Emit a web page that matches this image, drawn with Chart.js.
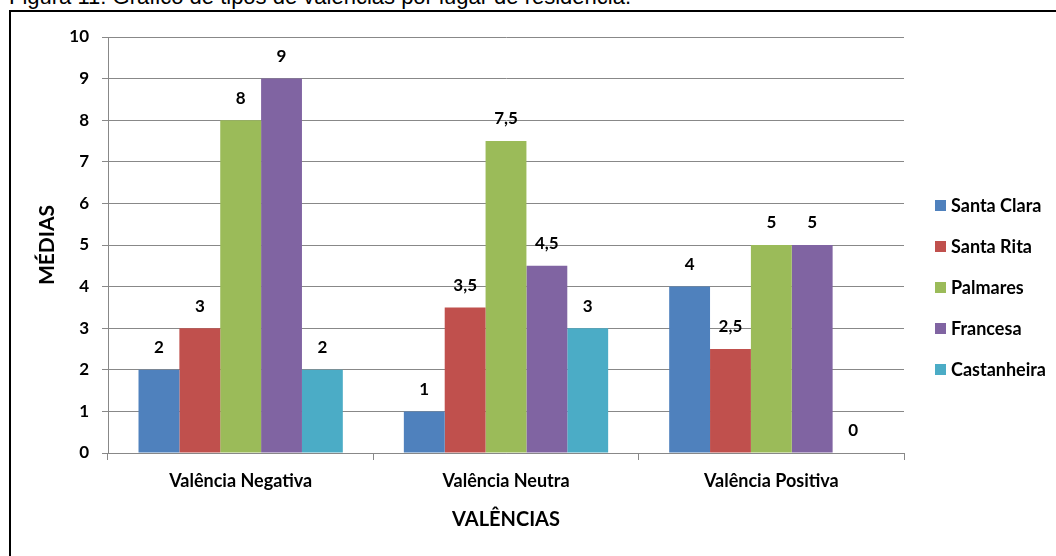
<!DOCTYPE html>
<html>
<head>
<meta charset="utf-8">
<title>Valências por lugar de residência</title>
<script src="https://cdn.jsdelivr.net/npm/chart.js@4/dist/chart.umd.min.js"></script>
<style>
  html, body { margin: 0; padding: 0; background: #fff; }
  body { width: 1056px; height: 556px; position: relative; overflow: hidden; }
  #frame {
    position: absolute; left: 9px; top: 10px; width: 1100px; height: 600px;
    border-left: 2px solid #000; border-top: 2px solid #000;
  }
  #caption {
    position: absolute; left: 9px; top: -14px; margin: 0;
    font: 22px "Liberation Sans", Arial, sans-serif; line-height: 22px;
    white-space: nowrap; color: #000;
  }
  #wrap { position: absolute; left: 0; top: 0; width: 1056px; height: 556px; }
</style>
</head>
<body>
<p id="caption">Figura 11: Gráfico de tipos de valências por lugar de residência.</p>
<div id="frame"></div>
<div id="wrap"><canvas id="chart" width="1056" height="556"></canvas></div>
<script>
// Mean scores per valence type, one series per place of residence
const valencias = ['Valência Negativa', 'Valência Neutra', 'Valência Positiva'];
const santaClara = [2, 1, 4];
const santaRita = [3, 3.5, 2.5];
const palmares = [8, 7.5, 5];
const francesa = [9, 4.5, 5];
const castanheira = [2, 3, 0];
const yTicks = [0, 1, 2, 3, 4, 5, 6, 7, 8, 9, 10];

const FONT = 'Lato, "Open Sans", sans-serif';
const GRID = '#888888';

const fmt = v => String(v).replace('.', ',');

// numbers above every bar
const valueLabels = {
    id: 'valueLabels',
    afterDatasetsDraw(chart) {
        const ctx = chart.ctx;
        ctx.save();
        ctx.font = 'bold 17px ' + FONT;
        ctx.fillStyle = '#000';
        ctx.textAlign = 'center';
        ctx.textBaseline = 'middle';
        chart.data.datasets.forEach((ds, i) => {
            chart.getDatasetMeta(i).data.forEach((bar, j) => {
                ctx.fillText(fmt(ds.data[j]), bar.x, bar.y - 22);
            });
        });
        ctx.restore();
    }
};

// legend on the right, square + name
const sideLegend = {
    id: 'sideLegend',
    afterDraw(chart) {
        const ctx = chart.ctx;
        ctx.save();
        ctx.font = 'bold 18px ' + FONT;
        ctx.textBaseline = 'middle';
        ctx.textAlign = 'left';
        chart.data.datasets.forEach((ds, i) => {
            const y = 205.5 + i * 41;
            ctx.fillStyle = ds.backgroundColor;
            ctx.fillRect(935, y - 5.5, 11, 11);
            ctx.fillStyle = '#000';
            ctx.fillText(ds.label, 951, y + 1);
        });
        ctx.restore();
    }
};

const series = [
    { label: 'Santa Clara', data: santaClara, color: '#4F81BD' },
    { label: 'Santa Rita', data: santaRita, color: '#C0504D' },
    { label: 'Palmares', data: palmares, color: '#9BBB59' },
    { label: 'Francesa', data: francesa, color: '#8064A2' },
    { label: 'Castanheira', data: castanheira, color: '#4BACC6' }
];

new Chart(document.getElementById('chart'), {
    type: 'bar',
    data: {
        labels: valencias,
        datasets: series.map(s => ({
            label: s.label,
            data: s.data,
            backgroundColor: s.color,
            borderWidth: 0,
            categoryPercentage: 0.77,
            barPercentage: 1.0
        }))
    },
    options: {
        responsive: false,
        animation: false,
        layout: { padding: { left: 10, top: 37, right: 152, bottom: 0 } },
        plugins: {
            legend: { display: false },
            tooltip: { enabled: false }
        },
        scales: {
            x: {
                afterFit: s => { s.height = 103; },
                grid: { drawOnChartArea: false, tickLength: 7, color: GRID, offset: true },
                border: { color: GRID },
                ticks: { color: '#000', padding: 10, font: { family: FONT, weight: 'bold', size: 18 } },
                title: {
                    display: true, text: 'VALÊNCIAS', color: '#000',
                    font: { family: FONT, weight: 'bold', size: 20 },
                    padding: { top: 0, bottom: 24 }
                }
            },
            y: {
                min: 0,
                max: 10,
                afterFit: s => { s.width = 98; },
                afterBuildTicks: s => { s.ticks = yTicks.map(v => ({ value: v })); },
                grid: { color: GRID, tickLength: 6 },
                border: { color: GRID },
                ticks: { color: '#000', padding: 13, font: { family: FONT, weight: 'bold', size: 17 } },
                title: {
                    display: true, text: 'MÉDIAS', color: '#000',
                    font: { family: FONT, weight: 'bold', size: 21 },
                    padding: { top: 25, bottom: 0 }
                }
            }
        }
    },
    plugins: [valueLabels, sideLegend]
});
</script>
</body>
</html>
